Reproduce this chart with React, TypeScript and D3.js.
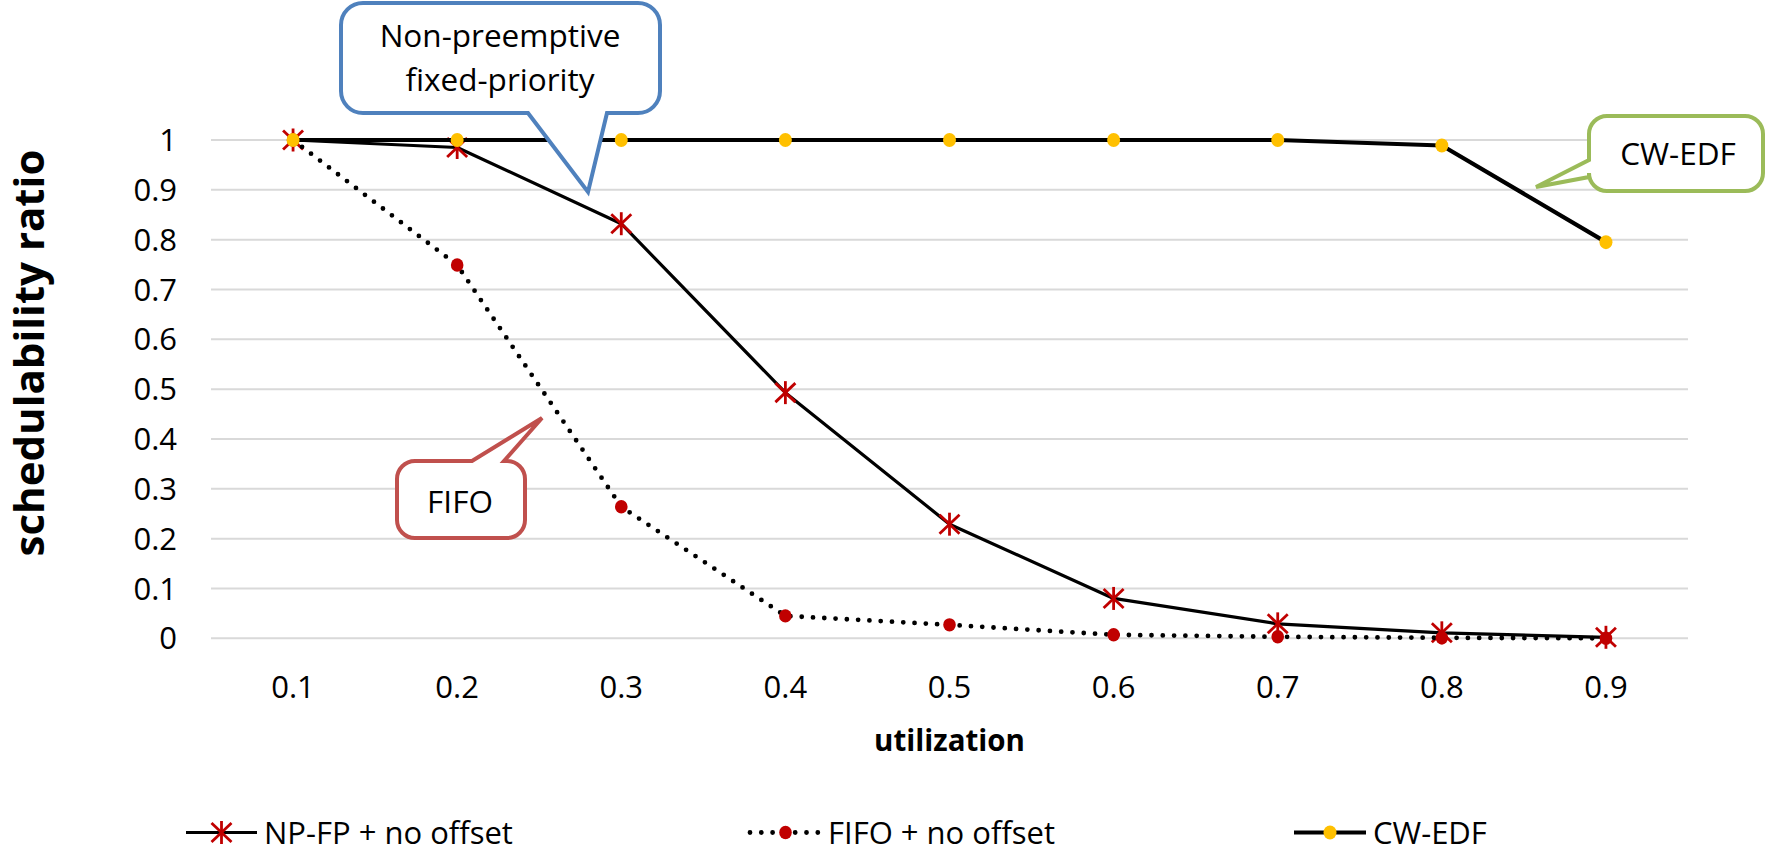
import React from "react";
import * as d3 from "d3";

const categories = ["0.1", "0.2", "0.3", "0.4", "0.5", "0.6", "0.7", "0.8", "0.9"];
const npfpValues = [1.0, 0.985, 0.832, 0.493, 0.229, 0.08, 0.029, 0.011, 0.002];
const fifoValues = [1.0, 0.749, 0.264, 0.045, 0.027, 0.007, 0.003, 0.001, 0.0];
const cwedfValues = [1, 1, 1, 1, 1, 1, 1, 0.989, 0.795];
const yTicks = [0, 0.1, 0.2, 0.3, 0.4, 0.5, 0.6, 0.7, 0.8, 0.9, 1];
const seriesNames = ["NP-FP + no offset", "FIFO + no offset", "CW-EDF"];
const xTitle = "utilization";
const yTitle = "schedulability ratio";

const W = 1767;
const H = 851;
const FONT = "'Open Sans', 'Noto Sans', sans-serif";
const RED = "#C00000";
const YELLOW = "#FFC000";

function Star({ cx, cy }: { cx: number; cy: number }) {
  return (
    <g stroke={RED} strokeWidth={2.8} strokeLinecap="butt">
      <line x1={cx - 10} y1={cy - 9.5} x2={cx + 10} y2={cy + 9.5} />
      <line x1={cx - 10} y1={cy + 9.5} x2={cx + 10} y2={cy - 9.5} />
      <line x1={cx} y1={cy - 11.5} x2={cx} y2={cy + 11.5} />
    </g>
  );
}

function callout(
  x0: number, y0: number, x1: number, y1: number, r: number,
  side: "bottom" | "top" | "left", a: number, b: number, tx: number, ty: number
) {
  const p = d3.path();
  p.moveTo(x0 + r, y0);
  if (side === "top") {
    p.lineTo(a, y0);
    p.lineTo(tx, ty);
    p.lineTo(b, y0);
  }
  p.lineTo(x1 - r, y0);
  p.arcTo(x1, y0, x1, y0 + r, r);
  p.lineTo(x1, y1 - r);
  p.arcTo(x1, y1, x1 - r, y1, r);
  if (side === "bottom") {
    p.lineTo(b, y1);
    p.lineTo(tx, ty);
    p.lineTo(a, y1);
  }
  p.lineTo(x0 + r, y1);
  p.arcTo(x0, y1, x0, y1 - r, r);
  if (side === "left") {
    p.lineTo(x0, b);
    p.lineTo(tx, ty);
    p.lineTo(x0, a);
  }
  p.lineTo(x0, y0 + r);
  p.arcTo(x0, y0, x0 + r, y0, r);
  p.closePath();
  return p.toString();
}

export default function App() {
  const left = 211;
  const right = 1688;
  const top = 140;
  const bottom = 638.3;

  const x = d3.scaleBand<string>().domain(categories).range([left, right]).padding(0);
  const px = (c: string) => (x(c) as number) + x.bandwidth() / 2;
  const y = d3.scaleLinear().domain([0, 1]).range([bottom, top]);

  const line = d3
    .line<number>()
    .x((_, i) => px(categories[i]))
    .y((d) => y(d));

  const fmt = (v: number) => String(+v.toFixed(1));

  // legend layout
  const legendY = 832.5;
  const legendItems = [
    { name: seriesNames[0], x0: 186, x1: 257 },
    { name: seriesNames[1], x0: 750, x1: 821 },
    { name: seriesNames[2], x0: 1294, x1: 1366 },
  ];

  return (
    <>
      <style>{`body{margin:0}`}</style>
      <svg width={W} height={H} style={{ display: "block", background: "#fff" }} fontFamily={FONT}>
        {/* gridlines */}
        {yTicks.map((t) => (
          <line key={t} x1={left} x2={right} y1={y(t)} y2={y(t)} stroke="#D9D9D9" strokeWidth={2} />
        ))}
        {/* y tick labels */}
        {yTicks.map((t) => (
          <text key={"yl" + t} x={177} y={y(t)} dy="0.36em" textAnchor="end" fontSize={31} fill="#000">
            {fmt(t)}
          </text>
        ))}
        {/* x tick labels */}
        {categories.map((c) => (
          <text key={"xl" + c} x={px(c)} y={698} textAnchor="middle" fontSize={31} fill="#000">
            {c}
          </text>
        ))}
        {/* axis titles */}
        <text x={(left + right) / 2} y={751} textAnchor="middle" fontSize={29.5} fontWeight="bold" fill="#000">
          {xTitle}
        </text>
        <text
          transform={`translate(44,353) rotate(-90)`}
          textAnchor="middle"
          fontSize={42}
          fontWeight="bold"
          fill="#000"
        >
          {yTitle}
        </text>

        {/* NP-FP series */}
        <path d={line(npfpValues) as string} fill="none" stroke="#000" strokeWidth={3.2} strokeLinejoin="round" />
        {npfpValues.map((v, i) => (
          <Star key={"s" + i} cx={px(categories[i])} cy={y(v)} />
        ))}

        {/* FIFO series */}
        <path
          d={line(fifoValues) as string}
          fill="none"
          stroke="#000"
          strokeWidth={4.8}
          strokeDasharray="0 11.3"
          strokeLinecap="round"
        />
        {fifoValues.map((v, i) => (
          <ellipse key={"f" + i} cx={px(categories[i])} cy={y(v)} rx={6.3} ry={6.7} fill={RED} />
        ))}

        {/* CW-EDF series */}
        <path d={line(cwedfValues) as string} fill="none" stroke="#000" strokeWidth={4.2} strokeLinejoin="round" />
        {cwedfValues.map((v, i) => (
          <ellipse key={"c" + i} cx={px(categories[i])} cy={y(v)} rx={6.5} ry={7} fill={YELLOW} />
        ))}

        {/* callouts */}
        <path
          d={callout(341, 3, 660, 113, 22, "bottom", 528, 607, 588, 192)}
          fill="#fff"
          stroke="#4F81BD"
          strokeWidth={4}
        />
        <text x={500} y={46.5} textAnchor="middle" fontSize={31.5} fill="#000">Non-preemptive</text>
        <text x={500} y={90.5} textAnchor="middle" fontSize={31.5} fill="#000">fixed-priority</text>

        <path
          d={callout(1589, 116, 1763, 191, 18, "left", 160, 177, 1536, 187)}
          fill="#fff"
          stroke="#9BBB59"
          strokeWidth={4}
        />
        <text x={1678} y={165} textAnchor="middle" fontSize={31.5} fill="#000">CW-EDF</text>

        <path
          d={callout(397, 461, 525, 538, 18, "top", 472, 504, 542, 418)}
          fill="#fff"
          stroke="#C0504D"
          strokeWidth={4}
        />
        <text x={460} y={513} textAnchor="middle" fontSize={31.5} fill="#000">FIFO</text>

        {/* legend */}
        {legendItems.map((it, i) => {
          const mx = (it.x0 + it.x1) / 2;
          return (
            <g key={"lg" + i}>
              {i === 0 && (
                <>
                  <line x1={it.x0} x2={it.x1} y1={legendY} y2={legendY} stroke="#000" strokeWidth={3.2} />
                  <Star cx={mx} cy={legendY} />
                </>
              )}
              {i === 1 && (
                <>
                  <line
                    x1={it.x0}
                    x2={it.x1}
                    y1={legendY}
                    y2={legendY}
                    stroke="#000"
                    strokeWidth={4.8}
                    strokeDasharray="0 11.3"
                    strokeLinecap="round"
                  />
                  <ellipse cx={mx} cy={legendY} rx={6.3} ry={6.7} fill={RED} />
                </>
              )}
              {i === 2 && (
                <>
                  <line x1={it.x0} x2={it.x1} y1={legendY} y2={legendY} stroke="#000" strokeWidth={4.2} />
                  <ellipse cx={mx} cy={legendY} rx={6.5} ry={7} fill={YELLOW} />
                </>
              )}
              <text x={it.x1 + 7} y={legendY + 11} fontSize={31} fill="#000">
                {it.name}
              </text>
            </g>
          );
        })}
      </svg>
    </>
  );
}
